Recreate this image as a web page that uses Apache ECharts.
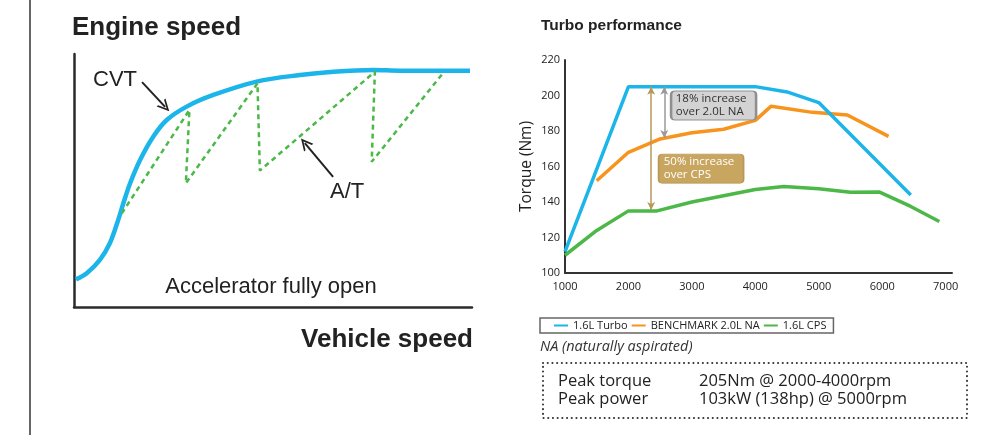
<!DOCTYPE html>
<html><head><meta charset="utf-8">
<script src="https://cdn.jsdelivr.net/npm/echarts/dist/echarts.min.js"></script>
<style>html,body{margin:0;padding:0;background:#fff}#c{width:988px;height:435px}</style>
</head><body><div id="c"></div>
<script>
// ---- Left schematic (relative units, 0-100 on both axes) ----
const cvtX = [0.5, 3.2, 6.5, 9.0, 11.1, 12.4, 14.1, 16.6, 19.9, 23.3, 28.3, 35.0, 45.9, 56.8, 65.2, 75.2, 81.9, 99.5];
const cvtY = [10.9, 13.3, 18.6, 25.2, 34.4, 41.0, 48.9, 58.1, 67.3, 73.9, 79.2, 83.8, 89.1, 91.7, 93.0, 93.7, 93.4, 93.4];
const atX = [12.0, 29.0, 28.1, 46.1, 46.7, 75.6, 74.8, 92.8];
const atY = [37.0, 77.9, 48.9, 88.4, 53.9, 93.0, 57.4, 92.6];
const cvtArrow = [[17.1, 88.9], [22.9, 79.1]];
const atArrow = [[65.1, 51.4], [58.0, 64.8]];

// ---- Right chart: torque (Nm) vs engine rpm ----
const seriesNames = ['1.6L Turbo', 'BENCHMARK 2.0L NA', '1.6L CPS'];
const turboRpm = [1000, 2000, 4000, 4500, 5000, 6450];
const turboNm = [112, 205, 205, 202, 196, 144];
const benchRpm = [1500, 2000, 2500, 3000, 3500, 4000, 4250, 4900, 5450, 6100];
const benchNm = [152, 168, 175.5, 179, 181, 186, 194, 190.5, 189, 177];
const cpsRpm = [1000, 1500, 2000, 2450, 3000, 3500, 4000, 4450, 5000, 5500, 5950, 6450, 6900];
const cpsNm = [110, 124, 135, 135, 140, 143.5, 147, 148.7, 147.5, 145.5, 145.7, 137.5, 129];
const xTickLabels = [1000, 2000, 3000, 4000, 5000, 6000, 7000];
const yTickLabels = [100, 120, 140, 160, 180, 200, 220];

const pair = (xs, ys) => xs.map((x, i) => [x, ys[i]]);
const chevron = 'path://M0,10 L5,0 L10,10 L8.4,10 L5,3.2 L1.6,10 Z';
const boxPath = 'path://M4,0 H81 Q85,0 85,4 V25 Q85,29 81,29 H4 Q0,29 0,25 V4 Q0,0 4,0 Z';
const RF = '"Open Sans", "Noto Sans", sans-serif';
const LF = '"Liberation Sans", Arial, sans-serif';

const chart = echarts.init(document.getElementById('c'), null, {renderer: 'canvas'});
const hidden = {show: false};
const baseAxisLine = {show: true, lineStyle: {color: '#2b2b2b', width: 2.5}};

chart.setOption({
  animation: false,
  backgroundColor: '#fff',
  grid: [
    {left: 74, top: 54, width: 398, height: 253},
    {left: 565, right: 36, top: 60, bottom: 162}
  ],
  xAxis: [
    {gridIndex: 0, type: 'value', min: 0, max: 100, axisLine: baseAxisLine,
     axisTick: hidden, axisLabel: hidden, splitLine: hidden},
    {gridIndex: 1, type: 'value', min: xTickLabels[0], max: 7100, interval: 1000,
     axisLine: {show: true, lineStyle: {color: '#333', width: 2}},
     axisTick: hidden, splitLine: hidden,
     axisLabel: {showMaxLabel: false, color: '#222', fontSize: 11, fontFamily: RF, margin: 8,
                 formatter: v => (xTickLabels.indexOf(v) >= 0 ? String(v) : '')}}
  ],
  yAxis: [
    {gridIndex: 0, type: 'value', min: 0, max: 100, axisLine: baseAxisLine,
     axisTick: hidden, axisLabel: hidden, splitLine: hidden},
    {gridIndex: 1, type: 'value', min: yTickLabels[0], max: yTickLabels[yTickLabels.length - 1], interval: 20,
     axisLine: {show: true, lineStyle: {color: '#333', width: 2}},
     axisTick: hidden, splitLine: hidden,
     axisLabel: {color: '#222', fontSize: 11, fontFamily: RF, margin: 5},
     name: 'Torque (Nm)', nameLocation: 'middle', nameGap: 30,
     nameTextStyle: {fontSize: 15.5, fontFamily: RF, color: '#222'}}
  ],
  legend: {
    data: seriesNames,
    left: 540, top: 318,
    orient: 'horizontal',
    icon: 'rect', itemWidth: 14, itemHeight: 2, itemGap: 4,
    borderColor: '#666', borderWidth: 1.5, borderRadius: 0,
    padding: [2, 7, 2, 14],
    textStyle: {fontSize: 11, fontFamily: RF, color: '#222'}
  },
  series: [
    {name: 'CVT', type: 'line', xAxisIndex: 0, yAxisIndex: 0, data: pair(cvtX, cvtY),
     smooth: 0.35, showSymbol: false, clip: false,
     lineStyle: {color: '#1cb5ea', width: 4.5}, itemStyle: {color: '#1cb5ea'},
     markLine: {silent: true, symbol: ['none', chevron], symbolSize: 12, label: hidden,
       lineStyle: {color: '#222', width: 2, type: 'solid'}, itemStyle: {color: '#222'},
       data: [
         [{coord: cvtArrow[0]}, {coord: cvtArrow[1]}],
         [{coord: atArrow[0]}, {coord: atArrow[1]}]
       ]}},
    {name: 'A/T', type: 'line', xAxisIndex: 0, yAxisIndex: 0, data: pair(atX, atY),
     showSymbol: false, clip: false,
     lineStyle: {color: '#4cb848', width: 2.5, type: [5, 4]}, itemStyle: {color: '#4cb848'}},
    {name: seriesNames[0], type: 'line', xAxisIndex: 1, yAxisIndex: 1, data: pair(turboRpm, turboNm),
     showSymbol: false, z: 3,
     lineStyle: {color: '#1cb5ea', width: 3.5}, itemStyle: {color: '#1cb5ea'},
     markLine: {silent: true, symbol: ['arrow', 'arrow'], symbolSize: [6, 8], label: hidden,
       data: [
         [{coord: [2565, 205], lineStyle: {color: '#9a9a9a', width: 1.5, type: 'solid'}, itemStyle: {color: '#9a9a9a'}},
          {coord: [2565, 176]}],
         [{coord: [2358, 205], lineStyle: {color: '#b89858', width: 1.5, type: 'solid'}, itemStyle: {color: '#b89858'}},
          {coord: [2358, 135.5]}]
       ]},
     markPoint: {silent: true,
       data: [
         {coord: [3342, 194.4], symbol: boxPath, symbolSize: [85, 29],
          itemStyle: {color: '#d3d3d3', borderColor: '#8f8f8f', borderWidth: 1.5},
          label: {show: true, position: 'insideLeft', distance: 6, formatter: '18% increase\nover 2.0L NA',
                  color: '#333', fontSize: 11.5, lineHeight: 13, fontFamily: RF}},
         {coord: [3145, 158.8], symbol: boxPath, symbolSize: [85, 29],
          itemStyle: {color: '#c8a660', borderColor: '#b89858', borderWidth: 1},
          label: {show: true, position: 'insideLeft', distance: 6, formatter: '50% increase\nover CPS',
                  color: '#fff', fontSize: 11.5, lineHeight: 13, fontFamily: RF}}
       ]}},
    {name: seriesNames[1], type: 'line', xAxisIndex: 1, yAxisIndex: 1, data: pair(benchRpm, benchNm),
     showSymbol: false, z: 2,
     lineStyle: {color: '#f7941e', width: 3.5}, itemStyle: {color: '#f7941e'}},
    {name: seriesNames[2], type: 'line', xAxisIndex: 1, yAxisIndex: 1, data: pair(cpsRpm, cpsNm),
     showSymbol: false, z: 2,
     lineStyle: {color: '#4cb848', width: 3.5}, itemStyle: {color: '#4cb848'}}
  ],
  graphic: [
    {type: 'line', shape: {x1: 30, y1: 0, x2: 30, y2: 435}, style: {stroke: '#333', lineWidth: 1.5}},
    {type: 'text', x: 72, y: 28, style: {text: 'Engine speed', font: 'bold 26px ' + LF, fill: '#222', verticalAlign: 'middle'}},
    {type: 'text', x: 473, y: 340, style: {text: 'Vehicle speed', font: 'bold 26px ' + LF, fill: '#222', align: 'right', verticalAlign: 'middle'}},
    {type: 'text', x: 271, y: 287, style: {text: 'Accelerator fully open', font: '22px ' + LF, fill: '#222', align: 'center', verticalAlign: 'middle'}},
    {type: 'text', x: 93, y: 80, style: {text: 'CVT', font: '22px ' + LF, fill: '#222', verticalAlign: 'middle'}},
    {type: 'text', x: 330, y: 192, style: {text: 'A/T', font: '22px ' + LF, fill: '#222', verticalAlign: 'middle'}},
    {type: 'text', x: 541, y: 26, style: {text: 'Turbo performance', font: 'bold 15.5px ' + LF, fill: '#222', verticalAlign: 'middle'}},
    {type: 'text', x: 540, y: 347, style: {text: 'NA (naturally aspirated)', font: 'italic 14.5px ' + RF, fill: '#333', verticalAlign: 'middle'}},
    {type: 'rect', shape: {x: 543, y: 363, width: 424, height: 55},
     style: {fill: 'none', stroke: '#333', lineWidth: 2, lineDash: [0.1, 4.6], lineCap: 'round'}},
    {type: 'text', x: 558, y: 381, style: {text: 'Peak torque', font: '16.5px ' + RF, fill: '#222', verticalAlign: 'middle'}},
    {type: 'text', x: 699, y: 381, style: {text: '205Nm @ 2000-4000rpm', font: '16.5px ' + RF, fill: '#222', verticalAlign: 'middle'}},
    {type: 'text', x: 558, y: 399, style: {text: 'Peak power', font: '16.5px ' + RF, fill: '#222', verticalAlign: 'middle'}},
    {type: 'text', x: 699, y: 399, style: {text: '103kW (138hp) @ 5000rpm', font: '16.5px ' + RF, fill: '#222', verticalAlign: 'middle'}}
  ]
});
</script>
</body></html>
